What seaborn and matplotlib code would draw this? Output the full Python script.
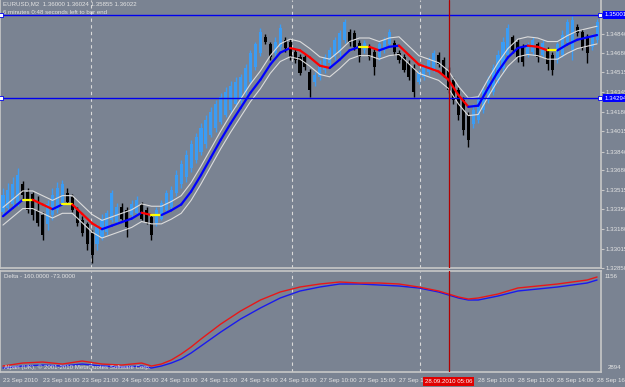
import numpy as np
import pandas as pd
import matplotlib
matplotlib.use("Agg")
import matplotlib.pyplot as plt
import matplotlib.transforms as mtrans
from matplotlib.collections import LineCollection
import seaborn as sns

# ---------------- data ----------------
opens = [1.3333, 1.3336, 1.3339, 1.3340, 1.3356, 1.3350, 1.3348, 1.3334, 1.3330, 1.3322,
         1.3330, 1.3334, 1.3340, 1.3349, 1.3345, 1.3334, 1.3326, 1.3322, 1.3315, 1.3305,
         1.3311, 1.3316, 1.3326, 1.3324, 1.3337, 1.3334, 1.3330, 1.3332, 1.3339, 1.3334,
         1.3328, 1.3323, 1.3327, 1.3334, 1.3337, 1.3349, 1.3356, 1.3362, 1.3370, 1.3377,
         1.3384, 1.3390, 1.3398, 1.3404, 1.3409, 1.3415, 1.3419, 1.3424, 1.3428, 1.3435,
         1.3443, 1.3456, 1.3468, 1.3481, 1.3475, 1.3468, 1.3473, 1.3479, 1.3477, 1.3469,
         1.3464, 1.3464, 1.3452, 1.3443, 1.3447, 1.3453, 1.3459, 1.3464, 1.3468, 1.3479,
         1.3486, 1.3485, 1.3476, 1.3470, 1.3473, 1.3469, 1.3464, 1.3470, 1.3475, 1.3476,
         1.3468, 1.3464, 1.3459, 1.3456, 1.3443, 1.3447, 1.3452, 1.3453, 1.3466, 1.3462,
         1.3453, 1.3445, 1.3436, 1.3428, 1.3415, 1.3407, 1.3411, 1.3419, 1.3428, 1.3435,
         1.3445, 1.3455, 1.3466, 1.3481, 1.3477, 1.3472, 1.3466, 1.3469, 1.3475, 1.3466,
         1.3470, 1.3466, 1.3462, 1.3466, 1.3477, 1.3470, 1.3490, 1.3486, 1.3481, 1.3473,
         1.3479]
highs = [1.3353, 1.3357, 1.3362, 1.3370, 1.3359, 1.3353, 1.3350, 1.3346, 1.3333, 1.3343,
         1.3353, 1.3358, 1.3360, 1.3353, 1.3348, 1.3337, 1.3329, 1.3324, 1.3317, 1.3322,
         1.3331, 1.3334, 1.3351, 1.3340, 1.3340, 1.3337, 1.3343, 1.3346, 1.3341, 1.3337,
         1.3331, 1.3337, 1.3343, 1.3351, 1.3355, 1.3368, 1.3377, 1.3385, 1.3394, 1.3400,
         1.3408, 1.3415, 1.3422, 1.3428, 1.3434, 1.3439, 1.3444, 1.3447, 1.3450, 1.3458,
         1.3470, 1.3477, 1.3489, 1.3484, 1.3477, 1.3481, 1.3492, 1.3481, 1.3480, 1.3471,
         1.3467, 1.3466, 1.3454, 1.3452, 1.3462, 1.3467, 1.3473, 1.3481, 1.3487, 1.3497,
         1.3488, 1.3487, 1.3479, 1.3479, 1.3475, 1.3471, 1.3477, 1.3481, 1.3488, 1.3479,
         1.3470, 1.3467, 1.3462, 1.3458, 1.3453, 1.3458, 1.3464, 1.3470, 1.3469, 1.3464,
         1.3456, 1.3447, 1.3439, 1.3430, 1.3418, 1.3424, 1.3431, 1.3440, 1.3448, 1.3458,
         1.3470, 1.3481, 1.3492, 1.3483, 1.3480, 1.3475, 1.3477, 1.3481, 1.3477, 1.3479,
         1.3473, 1.3469, 1.3477, 1.3487, 1.3497, 1.3499, 1.3492, 1.3488, 1.3484, 1.3484,
         1.3497]
lows = [1.3329, 1.3333, 1.3336, 1.3338, 1.3344, 1.3332, 1.3326, 1.3321, 1.3309, 1.3317,
        1.3326, 1.3332, 1.3338, 1.3339, 1.3333, 1.3321, 1.3312, 1.3300, 1.3289, 1.3300,
        1.3309, 1.3313, 1.3324, 1.3322, 1.3326, 1.3311, 1.3327, 1.3330, 1.3326, 1.3322,
        1.3309, 1.3321, 1.3326, 1.3333, 1.3334, 1.3346, 1.3353, 1.3358, 1.3367, 1.3374,
        1.3381, 1.3387, 1.3396, 1.3401, 1.3407, 1.3413, 1.3417, 1.3422, 1.3425, 1.3432,
        1.3441, 1.3453, 1.3465, 1.3475, 1.3462, 1.3465, 1.3470, 1.3469, 1.3462, 1.3459,
        1.3449, 1.3453, 1.3430, 1.3440, 1.3445, 1.3451, 1.3457, 1.3462, 1.3465, 1.3476,
        1.3474, 1.3470, 1.3460, 1.3468, 1.3462, 1.3449, 1.3462, 1.3468, 1.3472, 1.3466,
        1.3459, 1.3452, 1.3445, 1.3430, 1.3441, 1.3445, 1.3449, 1.3452, 1.3456, 1.3447,
        1.3434, 1.3424, 1.3411, 1.3398, 1.3388, 1.3404, 1.3408, 1.3417, 1.3425, 1.3432,
        1.3442, 1.3452, 1.3464, 1.3468, 1.3460, 1.3457, 1.3464, 1.3466, 1.3460, 1.3464,
        1.3453, 1.3449, 1.3459, 1.3464, 1.3475, 1.3462, 1.3482, 1.3470, 1.3459, 1.3470,
        1.3476]
closes = [1.3347, 1.3351, 1.3356, 1.3364, 1.3347, 1.3334, 1.3330, 1.3323, 1.3313, 1.3339,
          1.3347, 1.3353, 1.3356, 1.3341, 1.3334, 1.3323, 1.3315, 1.3305, 1.3296, 1.3320,
          1.3327, 1.3332, 1.3349, 1.3337, 1.3327, 1.3320, 1.3339, 1.3343, 1.3327, 1.3324,
          1.3313, 1.3334, 1.3340, 1.3349, 1.3351, 1.3364, 1.3373, 1.3381, 1.3390, 1.3396,
          1.3404, 1.3411, 1.3418, 1.3424, 1.3430, 1.3435, 1.3440, 1.3443, 1.3447, 1.3455,
          1.3468, 1.3475, 1.3486, 1.3477, 1.3464, 1.3477, 1.3489, 1.3472, 1.3464, 1.3462,
          1.3451, 1.3456, 1.3436, 1.3449, 1.3458, 1.3464, 1.3470, 1.3479, 1.3485, 1.3494,
          1.3476, 1.3473, 1.3464, 1.3476, 1.3464, 1.3456, 1.3475, 1.3479, 1.3486, 1.3469,
          1.3462, 1.3453, 1.3447, 1.3435, 1.3451, 1.3456, 1.3462, 1.3468, 1.3458, 1.3449,
          1.3436, 1.3428, 1.3415, 1.3402, 1.3394, 1.3419, 1.3428, 1.3436, 1.3445, 1.3455,
          1.3466, 1.3477, 1.3489, 1.3470, 1.3464, 1.3460, 1.3475, 1.3479, 1.3464, 1.3476,
          1.3458, 1.3453, 1.3475, 1.3483, 1.3494, 1.3496, 1.3485, 1.3472, 1.3468, 1.3481,
          1.3494]

ma_bars = list(range(0, 121, 2))
ma_values = [1.3329, 1.3336, 1.3343, 1.3343, 1.3339, 1.3335, 1.3339, 1.3339, 1.3331, 1.3323,
             1.3318, 1.3321, 1.3324, 1.3327, 1.3332, 1.3330, 1.3330, 1.3334, 1.3339, 1.3350,
             1.3364, 1.3379, 1.3394, 1.3408, 1.3421, 1.3434, 1.3445, 1.3458, 1.3468, 1.3472,
             1.3470, 1.3464, 1.3457, 1.3455, 1.3462, 1.3470, 1.3473, 1.3473, 1.3470, 1.3473,
             1.3474, 1.3466, 1.3458, 1.3455, 1.3452, 1.3445, 1.3432, 1.3422, 1.3423, 1.3438,
             1.3452, 1.3464, 1.3472, 1.3474, 1.3473, 1.3470, 1.3470, 1.3475, 1.3479, 1.3481,
             1.3483]
envelope_offset = 0.00075

hline_prices = [1.35001, 1.34295]
hline_labels = ["1.35001", "1.34294"]
price_ticks = [1.34840, 1.34680, 1.34515, 1.34345, 1.34180, 1.34015, 1.33840,
               1.33680, 1.33515, 1.33350, 1.33180, 1.33015, 1.32850]

day_breaks = [17.8, 58.4, 84.2]
cursor_bar = 90
cursor_label = "28.09.2010 05:06"
time_bars = [0, 8, 16, 24, 32, 40, 48, 56, 64, 72, 80, 96, 104, 112, 120]
time_labels = ["23 Sep 2010", "23 Sep 16:00", "23 Sep 21:00", "24 Sep 05:00",
               "24 Sep 10:00", "24 Sep 11:00", "24 Sep 14:00", "24 Sep 19:00",
               "27 Sep 10:00", "27 Sep 15:00", "27 Sep 18:00",
               "28 Sep 10:00", "28 Sep 11:00", "28 Sep 14:00", "28 Sep 16:00"]

delta_bars = [0, 4, 8, 12, 16, 20, 24, 28, 30, 32, 34, 36, 38, 40, 44, 48, 52, 56,
              60, 64, 68, 72, 76, 80, 84, 88, 92, 94, 96, 100, 104, 108, 112, 115, 118, 120]
delta_red = [-2642, -2515, -2473, -2558, -2431, -2558, -2600, -2515, -2642, -2558,
             -2389, -2136, -1840, -1503, -870, -321, 143, 481, 692, 818, 903, 861,
             861, 818, 692, 523, 270, 185, 228, 396, 650, 734, 818, 903, 987, 1114]
delta_blue = [-2726, -2642, -2600, -2642, -2558, -2642, -2684, -2642, -2726, -2642,
              -2515, -2347, -2093, -1798, -1207, -659, -194, 228, 523, 692, 818, 818,
              776, 734, 650, 481, 228, 143, 143, 312, 523, 607, 692, 776, 861, 987]
delta_top_label = "1156"
delta_bottom_label = "2894"

title_line1 = "EURUSD,M2  1.36000 1.36024 1.35855 1.36022"
title_line2 = "6 minutes 0:48 seconds left to bar end"
delta_title = "Delta - 160.0000 -73.0000"
copyright_txt = "Alpari (UK), \u00a9 2001-2010 MetaQuotes Software Corp."

# ---------------- style ----------------
BG = "#7a8392"
FG = "#e4e4e4"
FRAME = "#c8c8c8"
BULL = "#3a9cf5"
BEAR = "#000000"
FS = 4.4
W, H = 625, 387

sns.set_style("dark")
plt.rcParams["font.family"] = ["Liberation Sans", "DejaVu Sans"]

fig = plt.figure(figsize=(W / 100, H / 100), dpi=100, facecolor=BG)
ax = fig.add_axes([0, 1 - 268 / H, 601 / W, 268 / H])
ax2 = fig.add_axes([0, 15 / H, 601 / W, 101 / H])

for a in (ax, ax2):
    a.set_facecolor(BG)
    a.grid(False)
    a.set_xlim(-0.6, 120.8)
    for s in a.spines.values():
        s.set_color(FRAME)
        s.set_linewidth(1.2)
ax.spines["top"].set_visible(False)

# candles
df = pd.DataFrame(dict(open=opens, high=highs, low=lows, close=closes))
df["bar"] = np.arange(len(df))
bull = df["close"] >= df["open"]
cols = np.where(bull, BULL, BEAR)
ax.vlines(df["bar"], df["low"], df["high"], colors=cols, lw=1.0, zorder=2)
ax.bar(df["bar"], (df["close"] - df["open"]).abs().clip(lower=0.00005),
       bottom=df[["open", "close"]].min(axis=1), width=0.62, color=cols,
       linewidth=0, zorder=3)

# envelope + MA
ma = pd.DataFrame(dict(bar=ma_bars, value=ma_values))
env = pd.DataFrame(dict(bar=ma_bars, up=np.array(ma_values) + envelope_offset,
                        dn=np.array(ma_values) - envelope_offset))
sns.lineplot(data=env, x="bar", y="up", ax=ax, color="#dcdcdc", lw=0.8, zorder=4)
sns.lineplot(data=env, x="bar", y="dn", ax=ax, color="#dcdcdc", lw=0.8, zorder=4)
pts = np.column_stack([ma["bar"].values, ma["value"].values])
segs = np.stack([pts[:-1], pts[1:]], axis=1)
dif = np.diff(ma["value"].values)
seg_cols = ["#0000ff" if d > 0.00006 else "#ff0000" if d < -0.00006 else "#ffff00" for d in dif]
ax.add_collection(LineCollection(segs, colors=seg_cols, linewidths=1.6, zorder=5,
                                 capstyle="round"))

ax.set_ylim(1.3285, 1.35128)
ax.set_xticks([])
ax.set_xlabel("")
ax.set_ylabel("")
ax.yaxis.tick_right()
ax.set_yticks(price_ticks)
ax.set_yticklabels([f"{t:.5f}" for t in price_ticks])
ax.tick_params(axis="y", colors=FRAME, labelcolor=FG, labelsize=FS, length=2,
               width=0.8, pad=1.5, direction="out")

# horizontal level lines
blend = mtrans.blended_transform_factory(ax.transAxes, ax.transData)
for p, lab in zip(hline_prices, hline_labels):
    ax.axhline(p, color="#0000ee", lw=1, zorder=4)
    ax.plot([-0.3, 120.5], [p, p], "s", ms=2.4, mfc="white", mec="#0000ee",
            mew=0.6, clip_on=False, zorder=7)
    ax.text(1.006, p, lab, transform=blend, va="center", ha="left", fontsize=FS,
            color="white", clip_on=False, zorder=8,
            bbox=dict(boxstyle="square,pad=0.25", fc="#0000ff", ec="none"))

# lower panel
dd = pd.DataFrame(dict(bar=delta_bars, red=delta_red, blue=delta_blue))
sns.lineplot(data=dd, x="bar", y="blue", ax=ax2, color="#1a1aee", lw=1.0)
sns.lineplot(data=dd, x="bar", y="red", ax=ax2, color="#e81818", lw=1.0)
ax2.set_ylim(-2894, 1367)
ax2.set_yticks([])
ax2.set_xlabel("")
ax2.set_ylabel("")
ax2.set_xticks(time_bars)
ax2.set_xticklabels(time_labels, ha="left")
ax2.tick_params(axis="x", colors=FRAME, labelcolor=FG, labelsize=FS, length=2,
                width=0.8, pad=2.5, direction="out")

blend2 = mtrans.blended_transform_factory(ax2.transAxes, ax2.transData)
ax2.text(1.006, 1156, delta_top_label, transform=blend2, va="center", ha="left",
         fontsize=FS, color=FG, clip_on=False)
ax2.text(1.012, 0.02, delta_bottom_label, transform=ax2.transAxes, va="bottom",
         ha="left", fontsize=FS, color=FG, clip_on=False)
ax2.text(0.006, 0.97, delta_title, transform=ax2.transAxes, va="top", ha="left",
         fontsize=FS, color=FG)
ax2.text(0.006, 0.015, copyright_txt, transform=ax2.transAxes, va="bottom",
         ha="left", fontsize=FS, color=FG)

# vertical separators and cursor
for a in (ax, ax2):
    for b in day_breaks:
        a.axvline(b, color="#dadada", lw=0.8, ls=(0, (3, 3)), zorder=1)
    a.axvline(cursor_bar, color="#b00000", lw=0.9, zorder=6)

cur_tr = mtrans.blended_transform_factory(ax2.transData, fig.transFigure)
ax2.text(cursor_bar, 1 - 381.5 / H, cursor_label, transform=cur_tr, ha="center",
         va="center", fontsize=FS, color="white", clip_on=False, zorder=10,
         bbox=dict(boxstyle="square,pad=0.3", fc="#e00000", ec="none"))

# title texts
ax.text(0.005, 0.995, title_line1, transform=ax.transAxes, va="top", ha="left",
        fontsize=FS, color=FG)
ax.text(0.005, 0.962, title_line2, transform=ax.transAxes, va="top", ha="left",
        fontsize=FS, color=FG)

fig.savefig("out.png", dpi=100, facecolor=BG)
